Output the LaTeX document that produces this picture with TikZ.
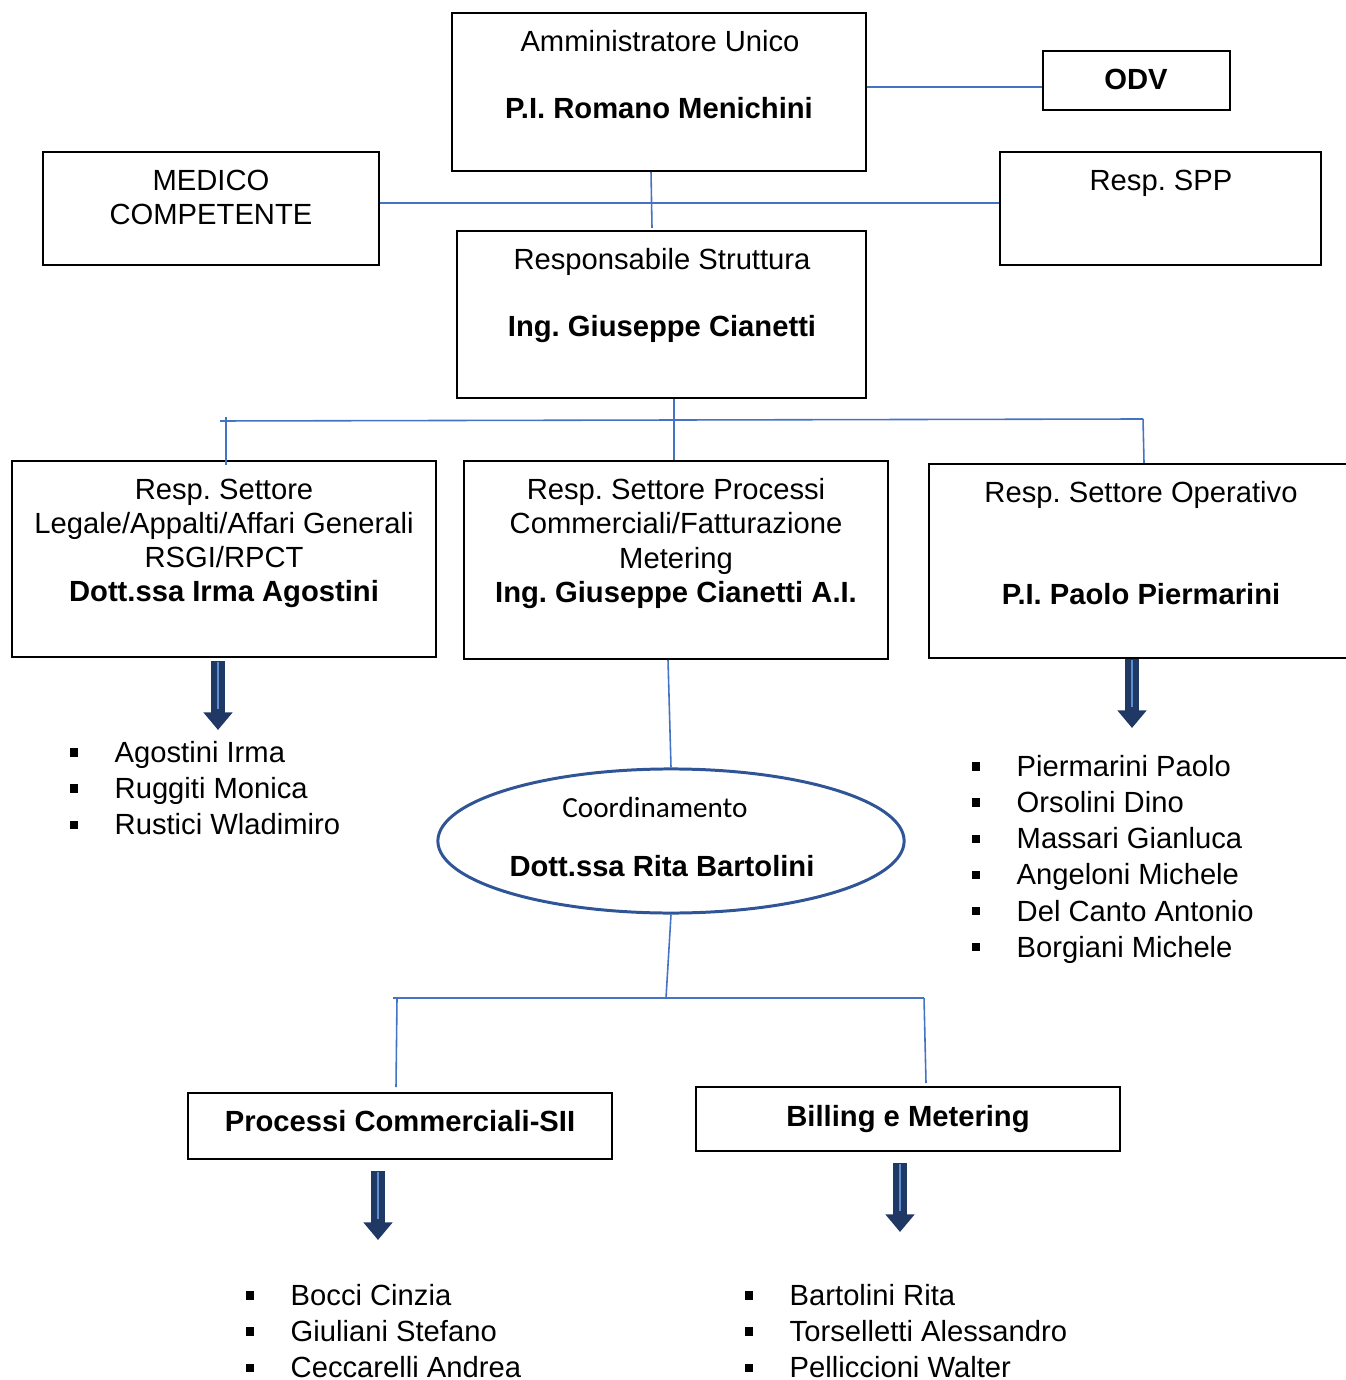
\documentclass[tikz,border=0pt]{standalone}
\usepackage{fontspec}
\setmainfont{Liberation Sans}
\newfontfamily\coordfont{Carlito}
\usetikzlibrary{arrows.meta,shapes.geometric}
\definecolor{linkblue}{HTML}{4472C4}
\definecolor{ovalblue}{HTML}{2F5597}
\definecolor{navy}{HTML}{1F3864}
\definecolor{coreblue}{HTML}{5B8FD0}
\newcommand\listbul{\makebox[12.8pt][l]{\rule[1.8pt]{2.3pt}{2.3pt}}}
\frenchspacing

\begin{document}
\begin{tikzpicture}[x=0.01cm,y=-0.01cm]
\tikzset{box/.style={draw,line width=0.5pt,inner sep=0,rectangle},
txt/.style={inner sep=0,anchor=north,align=center,font=\fontsize{8.3}{9.7}\selectfont},
lst/.style={inner sep=0,anchor=north west,align=left,font=\fontsize{8.3}{10.25}\selectfont},
link/.style={draw=linkblue,line width=0.45pt},
fat/.style={draw=navy,line width=3.8pt,-{Triangle[width=8pt,length=5pt]}},
core/.style={draw=coreblue,line width=0.45pt,shorten <=0.4pt,shorten >=6pt}}
\useasboundingbox (0,0) rectangle (1345,1380);

% boxes
\node[box,minimum width=4.14cm,minimum height=1.58cm] (adm) at (659,92) {};
\node[box,minimum width=1.87cm,minimum height=0.59cm] (odv) at (1136.5,80.5) {};
\node[box,minimum width=3.36cm,minimum height=1.13cm] (med) at (211,208.5) {};
\node[box,minimum width=3.21cm,minimum height=1.13cm] (spp) at (1160.5,208.5) {};
\node[box,minimum width=4.09cm,minimum height=1.67cm] (rs) at (661.5,314.5) {};
\node[box,minimum width=4.24cm,minimum height=1.96cm] (leg) at (224,559) {};
\node[box,minimum width=4.24cm,minimum height=1.98cm] (com) at (676,560) {};
\node[box,minimum width=4.36cm,minimum height=1.94cm] (ope) at (1147,561) {};
\node[draw=ovalblue,line width=0.85pt,ellipse,inner sep=0,minimum width=4.66cm,minimum height=1.44cm] (crd) at (671,841) {};
\node[box,minimum width=4.24cm,minimum height=0.66cm] (pcs) at (400,1126) {};
\node[box,minimum width=4.24cm,minimum height=0.64cm] (bil) at (908,1119) {};

% texts
\node[txt] (admT) at (660,30) {Amministratore Unico};
\node[txt] (admN) at (659,97) {\textbf{P.I. Romano Menichini}};
\node[txt] (odvT) at (1136,68) {\textbf{ODV}};
\node[txt] (medT) at (211,169) {MEDICO\\COMPETENTE};
\node[txt] (sppT) at (1161,169) {Resp. SPP};
\node[txt] (rsT) at (662,248) {Responsabile Struttura};
\node[txt] (rsN) at (662,315) {\textbf{Ing. Giuseppe Cianetti}};
\node[txt] (legT) at (224,478) {Resp. Settore\\Legale/Appalti/Affari Generali\\RSGI/RPCT\\\textbf{Dott.ssa Irma Agostini}};
\node[txt] (comT) at (676,478) {Resp. Settore Processi\\Commerciali/Fatturazione\\Metering\\\textbf{Ing. Giuseppe Cianetti A.I.}};
\node[txt] (opeT) at (1141,481) {Resp. Settore Operativo};
\node[txt] (opeN) at (1141,583) {\textbf{P.I. Paolo Piermarini}};
\node[txt,font=\fontsize{8.3}{9.7}\coordfont] (crdT) at (655,797) {Coordinamento};
\node[txt] (crdN) at (662,855) {\textbf{Dott.ssa Rita Bartolini}};
\node[txt] (pcsT) at (400,1110) {\textbf{Processi Commerciali-SII}};
\node[txt] (bilT) at (908,1105) {\textbf{Billing e Metering}};

% lists
\node[lst] (legL) at (69,741) {\listbul Agostini Irma\\\listbul Ruggiti Monica\\\listbul Rustici Wladimiro};
\node[lst] (opeL) at (971,755) {\listbul Piermarini Paolo\\\listbul Orsolini Dino\\\listbul Massari Gianluca\\\listbul Angeloni Michele\\\listbul Del Canto Antonio\\\listbul Borgiani Michele};
\node[lst] (pcsL) at (245,1284) {\listbul Bocci Cinzia\\\listbul Giuliani Stefano\\\listbul Ceccarelli Andrea};
\node[lst] (bilL) at (744,1284) {\listbul Bartolini Rita\\\listbul Torselletti Alessandro\\\listbul Pelliccioni Walter};

% connectors
\coordinate (h1l) at (220,421);
\coordinate (h1r) at (1143,419);
\coordinate (h2l) at (393,998);
\coordinate (h2r) at (924,998);
\draw[link] (adm.east |- 0,87) -- (odv.west |- 0,87);
\draw[link] (med.east |- 0,203) -- (spp.west |- 0,203);
\draw[link] (adm.south -| 651,0) -- (652,228);
\draw[link] (rs.south -| 674,0) -- (com.north -| 674,0);
\draw[link] (h1l) -- (h1r);
\draw[link] (226,417) -- (226,465);
\draw[link] (h1r) -- (1144,463);
\draw[link] (com.south -| 668,0) -- (crd.north);
\draw[link] (crd.south) -- (666,998);
\draw[link] (h2l) -- (h2r);
\draw[link] (397,998) -- (396,1087);
\draw[link] (h2r) -- (926,1083);

% block arrows
\coordinate (legS) at (218,661);
\coordinate (legA) at (218,730);
\coordinate (opeS) at (1132,659);
\coordinate (opeA) at (1132,728);
\coordinate (pcsS) at (378,1171);
\coordinate (pcsA) at (378,1240);
\coordinate (bilS) at (900,1163);
\coordinate (bilA) at (900,1232);
\foreach \s/\a in {legS/legA,opeS/opeA,pcsS/pcsA,bilS/bilA}{
  \draw[fat] (\s) -- (\a);
  \draw[core] (\s) -- (\a);
}
\end{tikzpicture}
\end{document}
